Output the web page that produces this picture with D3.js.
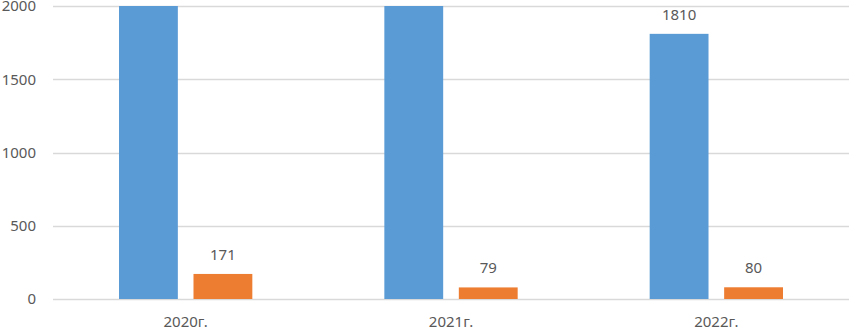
<!DOCTYPE html>
<html>
<head>
<meta charset="utf-8">
<script src="https://cdn.jsdelivr.net/npm/d3@7"></script>
<style>
  body { margin: 0; background: #fff; }
  text { font-family: "Noto Sans", "Open Sans", sans-serif; fill: #595959; }
</style>
</head>
<body>
<div id="chart"></div>
<script>
// categories and the two series (blue bars run past the top of the frame)
var years = ["2020г.", "2021г.", "2022г."];
var seriesA = [2250, 2150, 1810];
var seriesB = [171, 79, 80];
var yTicks = [0, 500, 1000, 1500, 2000];

var W = 849, H = 330;
var margin = {top: 6, right: 0, bottom: 31, left: 53};
var width = W - margin.left - margin.right,
    height = H - margin.top - margin.bottom;

var svg = d3.select("#chart").append("svg")
    .attr("width", W)
    .attr("height", H);

var g = svg.append("g")
    .attr("transform", "translate(" + margin.left + "," + margin.top + ")");

var x = d3.scaleBand().domain(years).range([0, width]);
var inner = d3.scaleBand().domain([0, 1])
    .range([66, x.bandwidth() - 66])
    .paddingInner(0.21);
var y = d3.scaleLinear().domain([0, 2000]).range([height, 0]);

// gridlines
g.append("g")
    .selectAll("line")
    .data(yTicks)
  .enter().append("line")
    .attr("x1", 0)
    .attr("x2", width)
    .attr("y1", function(d) { return Math.round(y(d)) + 0.5; })
    .attr("y2", function(d) { return Math.round(y(d)) + 0.5; })
    .attr("stroke", "#d9d9d9")
    .attr("stroke-width", 1.5);

// y tick labels
var yAxis = g.append("g")
    .call(d3.axisLeft(y).tickValues(yTicks).tickFormat(d3.format("d")).tickSize(0).tickPadding(17));
yAxis.select(".domain").remove();
yAxis.selectAll("text")
    .style("font-size", "15px")
    .style("fill", "#595959")
    .style("font-family", "'Noto Sans', sans-serif");

// x labels
var xAxis = g.append("g")
    .attr("transform", "translate(0," + height + ")")
    .call(d3.axisBottom(x).tickSize(0).tickPadding(17));
xAxis.select(".domain").remove();
xAxis.selectAll("text")
    .style("font-size", "15px")
    .style("fill", "#595959")
    .style("font-family", "'Noto Sans', sans-serif");

svg.append("clipPath").attr("id", "plot")
  .append("rect")
    .attr("x", 0).attr("y", 0)
    .attr("width", width).attr("height", height + 1);

var rows = years.map(function(c, i) { return {cat: c, vals: [seriesA[i], seriesB[i]]}; });
var colors = ["#5b9bd5", "#ed7d31"];

var grp = g.append("g")
    .attr("clip-path", "url(#plot)")
    .selectAll(".grp")
    .data(rows)
  .enter().append("g")
    .attr("transform", function(d) { return "translate(" + x(d.cat) + ",0)"; });

grp.selectAll("rect")
    .data(function(d) { return d.vals; })
  .enter().append("rect")
    .attr("x", function(d, i) { return inner(i); })
    .attr("width", inner.bandwidth())
    .attr("y", function(d) { return y(d); })
    .attr("height", function(d) { return height - y(d); })
    .attr("fill", function(d, i) { return colors[i]; });

// value labels, only for bars that fit in the frame
var lbl = g.selectAll(".lblgrp")
    .data(rows)
  .enter().append("g")
    .attr("transform", function(d) { return "translate(" + x(d.cat) + ",0)"; });

lbl.selectAll("text")
    .data(function(d) { return d.vals.map(function(v, i) { return {v: v, i: i}; })
                                     .filter(function(o) { return o.v <= 2000; }); })
  .enter().append("text")
    .attr("x", function(d) { return inner(d.i) + inner.bandwidth() / 2; })
    .attr("y", function(d) { return y(d.v) - 14; })
    .attr("text-anchor", "middle")
    .style("font-size", "15px")
    .text(function(d) { return d.v; });
</script>
</body>
</html>
